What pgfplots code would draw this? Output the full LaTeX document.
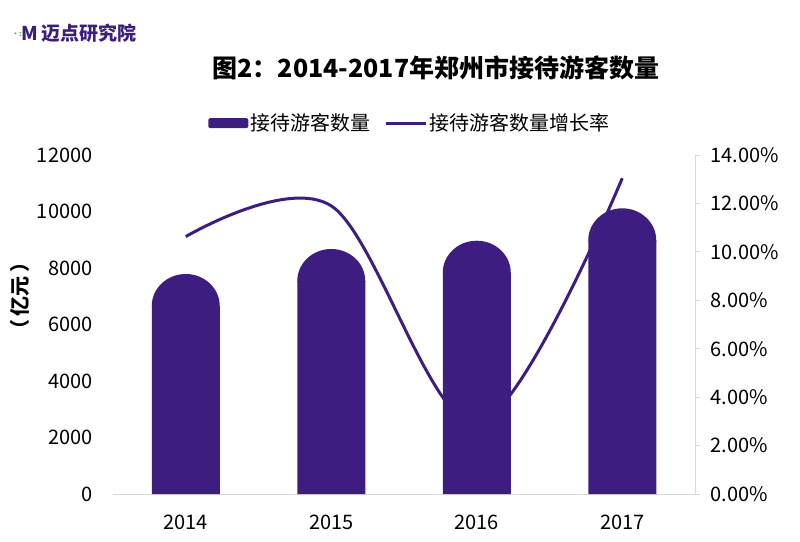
\documentclass[border=0pt]{standalone}
\usepackage{pgfplots}
\pgfplotsset{compat=1.18}
\usepackage{pgfplotstable}
\usepackage{fontspec}
\setmainfont{Noto Sans CJK SC}
\definecolor{barpurple}{RGB}{61,30,128}
\definecolor{axgray}{RGB}{217,217,217}
\definecolor{logogreen}{RGB}{60,180,60}
\pgfdeclareplotmark{dome}{%
  \pgfpathmoveto{\pgfqpoint{-34pt}{-1pt}}%
  \pgfpathlineto{\pgfqpoint{-34pt}{0pt}}%
  \pgfpatharc{180}{0}{34pt and 32pt}%
  \pgfpathlineto{\pgfqpoint{34pt}{-1pt}}%
  \pgfpathclose\pgfusepathqfill}
\pgfplotstableread{
x year v
0 2014 7788
1 2015 8673
2 2016 8966
3 2017 10113
}\visitors
\pgfplotstableread{
x year r
0 2014 10.63
1 2015 11.90
2 2016 2.90
3 2017 13.04
}\growth
\begin{document}
\begin{tikzpicture}
\path[use as bounding box] (0pt,0pt) rectangle (800pt,541pt);
% logo
\node[anchor=west, inner sep=0pt] at (12pt,508pt) {\fontsize{19}{19}\selectfont\bfseries
  {\color{logogreen}\raisebox{4pt}{\fontsize{7}{7}\selectfont ·:}}\textcolor{barpurple}{\textit{M}\,迈点研究院}};
% title
\node[font=\fontsize{25}{25}\selectfont\bfseries] at (436pt,473pt) {图2：2014-2017年郑州市接待游客数量};
% y label
\node[rotate=90, font=\fontsize{20}{20}\selectfont\bfseries] at (20pt,245pt) {（\,亿元\,）};
% right axis: growth line (drawn first, behind bars)
\begin{axis}[
  at={(113pt,47pt)}, anchor=south west, scale only axis,
  width=582pt, height=339pt,
  xmin=-0.5, xmax=3.5, ymin=0, ymax=14,
  axis x line=none, axis y line*=right,
  y axis line style={draw=axgray, line width=0.8pt, -},
  ytick={0,2,...,14},
  ytick style={draw=axgray, line width=0.8pt},
  tick align=outside, major tick length=5pt,
  /pgf/number format/assume math mode=true,
  yticklabel={\pgfmathprintnumber[fixed,fixed zerofill,precision=2]{\tick}\%},
  yticklabel style={font=\fontsize{20}{24}\selectfont, xshift=7pt},
  clip=false,
]
\addplot[barpurple, line width=3pt, smooth, tension=0.55] table[x=x, y=r] {\growth};
\end{axis}
% left axis: bars
\begin{axis}[
  at={(113pt,47pt)}, anchor=south west, scale only axis,
  width=582pt, height=339pt,
  xmin=-0.5, xmax=3.5, ymin=0, ymax=12000,
  axis x line*=bottom, axis y line*=left,
  x axis line style={draw=axgray, line width=0.8pt, -},
  y axis line style={draw=none, -},
  xtick=data, xticklabels={2014,2015,2016,2017},
  ytick={0,2000,...,12000},
  tick style={draw=none},
  scaled y ticks=false,
  /pgf/number format/assume math mode=true,
  yticklabel style={font=\fontsize{20}{24}\selectfont, xshift=-17pt, /pgf/number format/1000 sep={}},
  xticklabel style={font=\fontsize{20}{24}\selectfont, yshift=-17pt},
  legend style={at={(0.51,1.094)}, anchor=center, draw=none, fill=none,
    legend columns=2, font=\fontsize{20}{24}\selectfont,
    nodes={inner sep=2pt},
    /tikz/every even column/.append style={column sep=12pt}},
  clip=false,
]
\addplot[ybar, bar width=68pt, fill=barpurple, draw=none,
  legend image code/.code={\fill[barpurple, rounded corners=2pt] (0pt,-5pt) rectangle (40pt,5pt);}]
  table[x=x, y expr=\thisrow{v}-1133] {\visitors};
\addlegendentry{接待游客数量}
\addplot[only marks, mark=dome, color=barpurple, forget plot]
  table[x=x, y expr=\thisrow{v}-1133] {\visitors};
\addlegendimage{barpurple, line width=3pt, legend image code/.code={\draw[barpurple, line width=3pt] (0pt,0pt) -- (40pt,0pt);}}
\addlegendentry{接待游客数量增长率}
\end{axis}
\end{tikzpicture}
\end{document}
